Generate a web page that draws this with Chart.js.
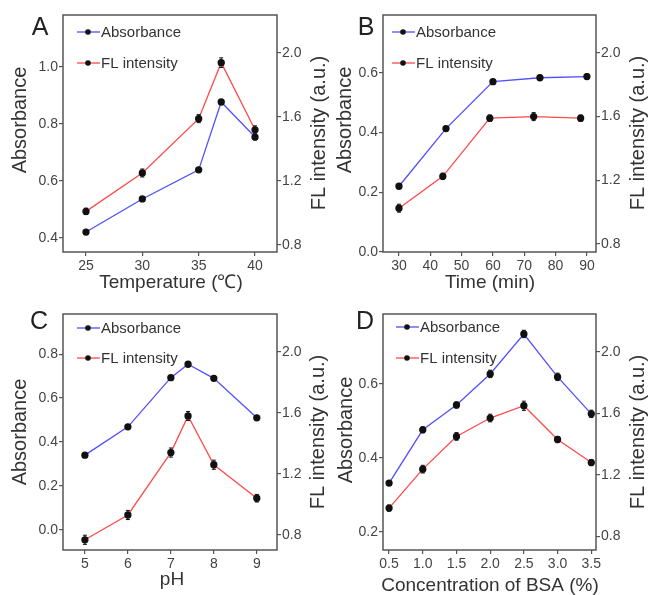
<!DOCTYPE html>
<html>
<head>
<meta charset="utf-8">
<script src="https://cdn.jsdelivr.net/npm/chart.js@4"></script>
<style>
  html, body { margin: 0; padding: 0; background: #fff; }
  #wrap { position: relative; width: 648px; height: 595px; overflow: hidden; }
  #wrap canvas { position: absolute; }
</style>
</head>
<body>
<div id="wrap">
  <canvas id="chartA" width="340" height="297" style="left:0;top:0"></canvas>
  <canvas id="chartB" width="324" height="297" style="left:324px;top:0"></canvas>
  <canvas id="chartC" width="340" height="298" style="left:0;top:297px"></canvas>
  <canvas id="chartD" width="324" height="298" style="left:324px;top:297px"></canvas>
</div>
<script>
// Panel A - temperature
const tempX = [25, 30, 35, 37, 40];
const tempAbs = [0.421, 0.537, 0.639, 0.877, 0.754];
const tempFl = [1.01, 1.25, 1.59, 1.94, 1.52];
const tempAbsErr = [0.005, 0.006, 0.006, 0.008, 0.01];
const tempFlErr = [0.02, 0.025, 0.025, 0.03, 0.025];

// Panel B - time
const timeX = [30, 45, 60, 75, 90];
const timeFlX = [30, 44, 59, 73, 88];
const timeAbs = [0.22, 0.413, 0.57, 0.583, 0.587];
const timeFl = [1.025, 1.225, 1.59, 1.6, 1.59];
const timeAbsErr = [0.005, 0.006, 0.006, 0.008, 0.008];
const timeFlErr = [0.025, 0.02, 0.02, 0.025, 0.02];

// Panel C - pH
const phX = [5, 6, 7, 7.4, 8, 9];
const phAbs = [0.34, 0.469, 0.693, 0.754, 0.69, 0.51];
const phFl = [0.767, 0.93, 1.34, 1.58, 1.26, 1.04];
const phAbsErr = [0.005, 0.006, 0.006, 0.006, 0.006, 0.006];
const phFlErr = [0.03, 0.03, 0.03, 0.03, 0.03, 0.025];

// Panel D - BSA concentration
const bsaX = [0.5, 1.0, 1.5, 2.0, 2.5, 3.0, 3.5];
const bsaAbs = [0.332, 0.476, 0.543, 0.627, 0.735, 0.619, 0.519];
const bsaFl = [0.983, 1.237, 1.45, 1.57, 1.65, 1.43, 1.28];
const bsaAbsErr = [0.006, 0.008, 0.008, 0.01, 0.01, 0.01, 0.01];
const bsaFlErr = [0.02, 0.025, 0.025, 0.025, 0.03, 0.02, 0.02];

// tick labels
const tempTicks = [25, 30, 35, 40];
const timeTicks = [30, 40, 50, 60, 70, 80, 90];
const phTicks = [5, 6, 7, 8, 9];
const bsaTicks = [0.5, 1.0, 1.5, 2.0, 2.5, 3.0, 3.5];
const absTicksA = [0.4, 0.6, 0.8, 1.0];
const absTicksB = [0.0, 0.2, 0.4, 0.6];
const absTicksC = [0.0, 0.2, 0.4, 0.6, 0.8];
const absTicksD = [0.2, 0.4, 0.6];
const flTicks = [0.8, 1.2, 1.6, 2.0];

const FONT = '"Liberation Sans", Arial, sans-serif';
const BLUE = '#5050ff';
const RED = '#ff4a4a';

function pts(xs, ys) {
  return xs.map((x, i) => ({ x: x, y: ys[i] }));
}

// frame, error bars, legend, titles and panel letter
const panelText = {
  id: 'panelText',
  afterDatasetsDraw(chart) {
    const ctx = chart.ctx;
    ctx.save();
    ctx.strokeStyle = '#111';
    ctx.lineWidth = 1;
    chart.data.datasets.forEach(ds => {
      if (!ds.errors) return;
      const ys = chart.scales[ds.yAxisID];
      const xs = chart.scales.x;
      ds.data.forEach((p, i) => {
        const px = xs.getPixelForValue(p.x);
        const y0 = ys.getPixelForValue(p.y - ds.errors[i]);
        const y1 = ys.getPixelForValue(p.y + ds.errors[i]);
        ctx.beginPath();
        ctx.moveTo(px, y0); ctx.lineTo(px, y1);
        ctx.moveTo(px - 2, y0); ctx.lineTo(px + 2, y0);
        ctx.moveTo(px - 2, y1); ctx.lineTo(px + 2, y1);
        ctx.stroke();
      });
    });
    ctx.restore();
  },
  afterDraw(chart, args, o) {
    const ctx = chart.ctx, a = chart.chartArea;
    ctx.save();
    ctx.strokeStyle = '#555';
    ctx.lineWidth = 1.5;
    ctx.strokeRect(a.left, a.top, a.right - a.left, a.bottom - a.top);

    ctx.fillStyle = '#222';
    ctx.textAlign = 'center';
    ctx.textBaseline = 'middle';
    ctx.font = '25px ' + FONT;
    ctx.fillText(o.letter, o.letterX, o.letterY);

    // legend
    ctx.font = '15px ' + FONT;
    ctx.textAlign = 'left';
    chart.data.datasets.forEach((ds, i) => {
      const y = o.legY[i];
      ctx.strokeStyle = ds.borderColor;
      ctx.lineWidth = 1.3;
      ctx.beginPath();
      ctx.moveTo(o.legX, y); ctx.lineTo(o.legX + 23, y);
      ctx.stroke();
      ctx.fillStyle = '#111';
      ctx.beginPath();
      ctx.arc(o.legX + 11, y, 2.8, 0, Math.PI * 2);
      ctx.fill();
      ctx.fillStyle = '#333';
      ctx.fillText(ds.label, o.legX + 24, y + 1);
    });

    // axis titles
    ctx.fillStyle = '#333';
    ctx.textAlign = 'center';
    ctx.font = '20px ' + FONT;
    [[o.leftTitle, o.leftX, o.leftY], [o.rightTitle, o.rightX, o.rightY]].forEach(t => {
      ctx.save();
      ctx.translate(t[1], t[2]);
      ctx.rotate(-Math.PI / 2);
      ctx.fillText(t[0], 0, 0);
      ctx.restore();
    });
    ctx.font = '19px ' + FONT;
    ctx.fillText(o.xTitle, o.xTitleX, o.xTitleY);
    ctx.restore();
  }
};

function tickAxis(min, max, ticks, position, size, fmt) {
  return {
    type: 'linear',
    position: position,
    min: min,
    max: max,
    afterBuildTicks: s => { s.ticks = ticks.map(v => ({ value: v })); },
    afterFit: s => {
      if (position === 'bottom') s.height = size; else s.width = size;
    },
    grid: { drawOnChartArea: false, drawTicks: true, tickLength: 4, color: '#555', lineWidth: 1.2 },
    border: { display: false },
    ticks: {
      padding: position === 'bottom' ? 2 : 1,
      color: '#444',
      font: { family: FONT, size: 14 },
      maxRotation: 0,
      autoSkip: false,
      callback: fmt
    }
  };
}

function createPanel(id, p) {
  const one = v => Number(v).toFixed(1);
  const config = {
    type: 'line',
    data: {
      datasets: [{
        label: 'Absorbance',
        data: pts(p.xAbs, p.abs),
        errors: p.absErr,
        yAxisID: 'y',
        borderColor: BLUE,
        borderWidth: 1.3,
        pointRadius: 3,
        pointBackgroundColor: '#111',
        pointBorderColor: '#111',
        tension: 0
      }, {
        label: 'FL intensity',
        data: pts(p.xFl, p.fl),
        errors: p.flErr,
        yAxisID: 'y1',
        borderColor: RED,
        borderWidth: 1.3,
        pointRadius: 3,
        pointBackgroundColor: '#111',
        pointBorderColor: '#111',
        tension: 0
      }]
    },
    options: {
      responsive: false,
      animation: false,
      layout: { padding: { top: p.top, left: 0, right: 0, bottom: 0 } },
      scales: {
        x: tickAxis(p.xMin, p.xMax, p.xTicks, 'bottom', 45, p.xFmt),
        y: tickAxis(p.yMin, p.yMax, p.yTicks, 'left', p.leftW, one),
        y1: tickAxis(p.y1Min, p.y1Max, flTicks, 'right', p.rightW, one)
      },
      plugins: {
        legend: { display: false },
        tooltip: { enabled: false },
        panelText: p.text
      }
    },
    plugins: [panelText]
  };
  return new Chart(document.getElementById(id), config);
}

const plain = v => String(v);
const oneDec = v => Number(v).toFixed(1);

createPanel('chartA', {
  xAbs: tempX, xFl: tempX, abs: tempAbs, fl: tempFl, absErr: tempAbsErr, flErr: tempFlErr,
  xMin: 22.96, xMax: 41.95, xTicks: tempTicks, xFmt: plain,
  yMin: 0.351, yMax: 1.182, yTicks: absTicksA,
  y1Min: 0.756, y1Max: 2.238,
  top: 15, leftW: 63, rightW: 63,
  text: { letter: 'A', letterX: 40, letterY: 28, legX: 77, legY: [32, 63],
    leftTitle: 'Absorbance', leftX: 20, leftY: 120,
    rightTitle: 'FL intensity (a.u.)', rightX: 319, rightY: 133,
    xTitle: 'Temperature (\u2103)', xTitleX: 171, xTitleY: 283 }
});

createPanel('chartB', {
  xAbs: timeX, xFl: timeFlX, abs: timeAbs, fl: timeFl, absErr: timeAbsErr, flErr: timeFlErr,
  xMin: 24.9, xMax: 92.9, xTicks: timeTicks, xFmt: plain,
  yMin: 0, yMax: 0.793, yTicks: absTicksB,
  y1Min: 0.75, y1Max: 2.238,
  top: 15, leftW: 59, rightW: 52,
  text: { letter: 'B', letterX: 42, letterY: 28, legX: 68, legY: [32, 63],
    leftTitle: 'Absorbance', leftX: 21, leftY: 120,
    rightTitle: 'FL intensity (a.u.)', rightX: 314, rightY: 133,
    xTitle: 'Time (min)', xTitleX: 166, xTitleY: 283 }
});

createPanel('chartC', {
  xAbs: phX, xFl: phX, abs: phAbs, fl: phFl, absErr: phAbsErr, flErr: phFlErr,
  xMin: 4.49, xMax: 9.47, xTicks: phTicks, xFmt: plain,
  yMin: -0.092, yMax: 0.983, yTicks: absTicksC,
  y1Min: 0.70, y1Max: 2.25,
  top: 17, leftW: 63, rightW: 63,
  text: { letter: 'C', letterX: 39, letterY: 25, legX: 77, legY: [31, 61],
    leftTitle: 'Absorbance', leftX: 20, leftY: 135,
    rightTitle: 'FL intensity (a.u.)', rightX: 318, rightY: 135,
    xTitle: 'pH', xTitleX: 172, xTitleY: 283 }
});

createPanel('chartD', {
  xAbs: bsaX, xFl: bsaX, abs: bsaAbs, fl: bsaFl, absErr: bsaAbsErr, flErr: bsaFlErr,
  xMin: 0.41, xMax: 3.57, xTicks: bsaTicks, xFmt: oneDec,
  yMin: 0.151, yMax: 0.789, yTicks: absTicksD,
  y1Min: 0.71, y1Max: 2.248,
  top: 17, leftW: 59, rightW: 52,
  text: { letter: 'D', letterX: 41, letterY: 25, legX: 72, legY: [30, 61],
    leftTitle: 'Absorbance', leftX: 22, leftY: 133,
    rightTitle: 'FL intensity (a.u.)', rightX: 314, rightY: 135,
    xTitle: 'Concentration of BSA (%)', xTitleX: 166, xTitleY: 289 }
});
</script>
</body>
</html>
